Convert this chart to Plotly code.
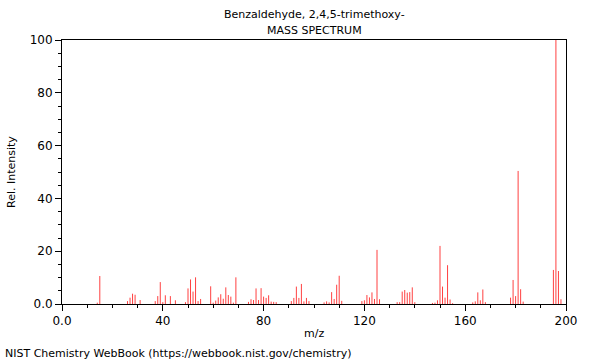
import plotly.graph_objects as go

mz = [14, 15, 26, 27, 28, 29, 31, 37, 38, 39, 40, 41, 43, 45,
      49, 50, 51, 52, 53, 54, 55, 59, 60, 61, 62, 63, 64, 65, 66, 67, 68, 69,
      74, 75, 76, 77, 78, 79, 80, 81, 82, 83, 84, 85,
      91, 92, 93, 94, 95, 96, 97, 98,
      104, 105, 106, 107, 108, 109, 110, 111,
      119, 120, 121, 122, 123, 124, 125, 126,
      133, 134, 135, 136, 137, 138, 139, 140,
      147, 148, 149, 150, 151, 152, 153, 154, 155,
      163, 164, 165, 166, 167, 168,
      178, 179, 180, 181, 182, 183,
      195, 196, 197, 198]
intensity = [0.5, 10.6, 1.1, 2.4, 3.9, 3.5, 1.5, 1.1, 3.0, 8.3, 0.7, 3.3, 3.0, 1.4,
             0.7, 5.9, 9.3, 4.7, 10.1, 1.1, 1.9, 6.7, 0.5, 1.3, 2.5, 3.7, 2.0, 6.3, 3.4, 2.8, 0.5, 10.1,
             0.8, 1.8, 1.5, 5.9, 1.5, 6.0, 2.8, 2.3, 3.3, 0.9, 0.8, 0.7,
             1.1, 2.3, 6.6, 2.3, 7.6, 1.0, 2.3, 1.1,
             0.6, 1.0, 0.6, 4.5, 1.9, 7.3, 10.7, 1.2,
             1.1, 1.4, 3.4, 2.5, 4.4, 1.9, 20.5, 1.8,
             0.7, 0.7, 4.7, 5.3, 4.3, 4.5, 6.3, 0.7,
             0.4, 0.5, 1.4, 22.0, 6.6, 2.4, 14.7, 1.7, 0.3,
             0.6, 1.0, 4.4, 1.4, 5.5, 0.7,
             2.4, 9.1, 3.0, 50.4, 5.6, 0.9,
             12.9, 100.0, 12.5, 1.8]

x_tickvals = [0, 40, 80, 120, 160, 200]
x_ticktext = ["0.0", "40", "80", "120", "160", "200"]
y_tickvals = [0, 20, 40, 60, 80, 100]
y_ticktext = ["0.0", "20", "40", "60", "80", "100"]

# build stem segments from data
xs, ys = [], []
for m, v in zip(mz, intensity):
    xs += [m, m, None]
    ys += [0, v, None]

fig = go.Figure()
fig.add_trace(go.Scatter(x=xs, y=ys, mode="lines",
                         line=dict(color="rgba(255,0,0,0.75)", width=1),
                         hoverinfo="skip", showlegend=False))

W, H = 600, 360
ML, MR, MT, MB = 62, 34, 40, 56
plot_h = H - MT - MB
plot_w = W - ML - MR
def py(pix):
    return (H - MB - pix) / plot_h
def px(pix):
    return (pix - ML) / plot_w

font_family = "DejaVu Sans, sans-serif"
fig.update_layout(
    width=W, height=H,
    margin=dict(l=ML, r=MR, t=MT, b=MB, autoexpand=False),
    plot_bgcolor="white", paper_bgcolor="white",
    font=dict(family=font_family, size=11, color="black"),
    showlegend=False,
    annotations=[
        dict(text="Benzaldehyde, 2,4,5-trimethoxy-", xref="paper", yref="paper",
             x=px(314), y=py(14), xanchor="center", yanchor="middle",
             showarrow=False, font=dict(size=11)),
        dict(text="MASS SPECTRUM", xref="paper", yref="paper",
             x=px(314), y=py(30), xanchor="center", yanchor="middle",
             showarrow=False, font=dict(size=11)),
        dict(text="NIST Chemistry WebBook (https://webbook.nist.gov/chemistry)",
             xref="paper", yref="paper", x=px(3), y=py(353),
             xanchor="left", yanchor="middle", showarrow=False, font=dict(size=11)),
        dict(text="m/z", xref="paper", yref="paper", x=px(314), y=py(333),
             xanchor="center", yanchor="middle", showarrow=False, font=dict(size=11)),
        dict(text="Rel. Intensity", xref="paper", yref="paper", x=px(11), y=py(172),
             xanchor="center", yanchor="middle", textangle=-90,
             showarrow=False, font=dict(size=11)),
    ],
)

fig.update_xaxes(range=[0, 200], tickvals=x_tickvals, ticktext=x_ticktext,
                 automargin=False,
                 showgrid=False, zeroline=False, showline=True, linecolor="black",
                 linewidth=1, mirror=True, ticks="outside", ticklen=6, tickcolor="black",
                 tickfont=dict(size=12),
                 minor=dict(dtick=10, tick0=0, ticks="outside", ticklen=3, tickcolor="black"))
fig.update_yaxes(range=[0, 100], tickvals=y_tickvals, ticktext=y_ticktext,
                 automargin=False,
                 showgrid=False, zeroline=False, showline=True, linecolor="black",
                 linewidth=1, mirror=True, ticks="outside", ticklen=6, tickcolor="black",
                 tickfont=dict(size=12),
                 minor=dict(dtick=5, tick0=0, ticks="outside", ticklen=3, tickcolor="black"))

fig.write_html("out.html", config={"displayModeBar": False},
               post_script="document.body.style.margin='0';document.body.style.overflow='hidden';")
